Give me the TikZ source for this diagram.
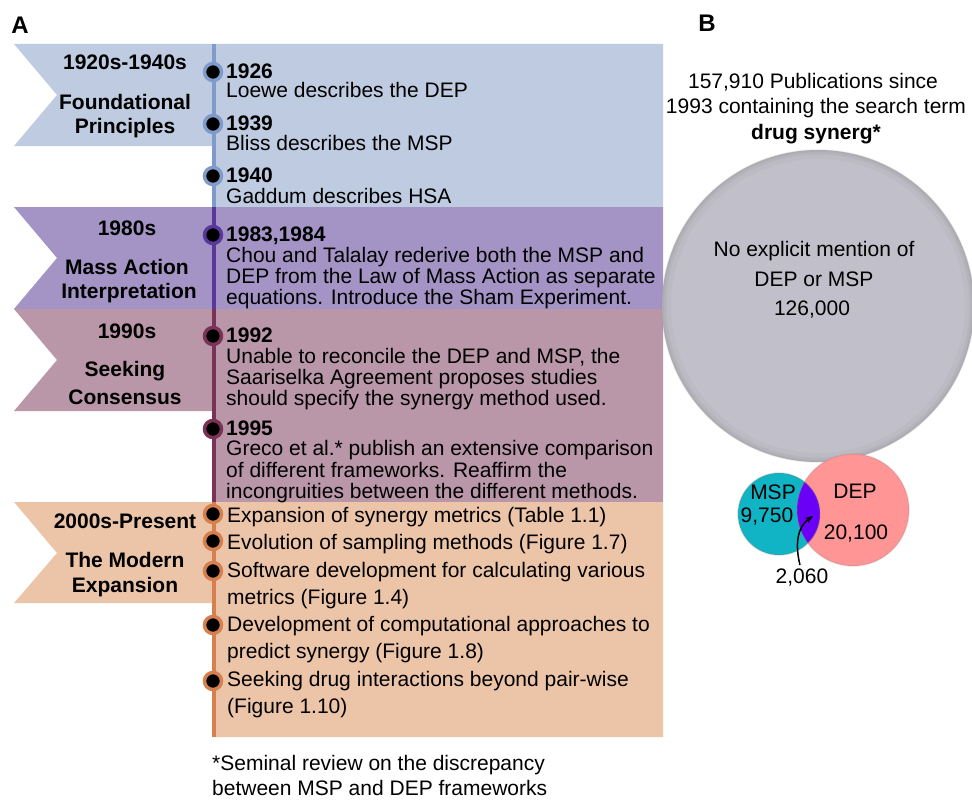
\documentclass[tikz,border=0pt]{standalone}
\usepackage{fontspec}
\usetikzlibrary{arrows.meta}
\setmainfont{Liberation Sans}
\newcommand\myfs{\fontsize{21}{24}\selectfont}
\definecolor{secA}{RGB}{190,203,224}
\definecolor{lineA}{RGB}{126,155,201}
\definecolor{secB}{RGB}{164,148,197}
\definecolor{lineB}{RGB}{88,56,152}
\definecolor{secC}{RGB}{185,151,168}
\definecolor{lineC}{RGB}{122,50,86}
\definecolor{secD}{RGB}{236,196,168}
\definecolor{lineD}{RGB}{214,128,80}
\definecolor{bigc}{RGB}{193,191,201}
\definecolor{mspc}{RGB}{16,180,196}
\definecolor{depc}{RGB}{255,149,149}
\definecolor{ovlc}{RGB}{106,0,245}
\begin{document}
\begin{tikzpicture}[x=1pt,y=-1pt,
  yr/.style={anchor=base west, font=\myfs\bfseries, inner sep=0pt},
  ds/.style={anchor=base west, font=\myfs, inner sep=0pt},
  lab/.style={font=\myfs\bfseries, inner sep=0pt, align=center},
  txt/.style={font=\myfs, inner sep=0pt},
  tdot/.style={circle, fill=black, draw=#1, line width=3.5pt, minimum size=17pt, inner sep=0pt},
  tline/.style={draw=#1, line width=4pt}]
\useasboundingbox (0,0) rectangle (972,800);
% panel letters
\node[font=\fontsize{24}{28}\selectfont\bfseries, inner sep=0pt] (lA) at (20,25) {A};
\node[font=\fontsize{24}{28}\selectfont\bfseries, inner sep=0pt] (lB) at (707,23) {B};
% section backgrounds
\fill[secA] (14,44) -- (663,44) -- (663,207) -- (213,207) -- (213,146) -- (14,146) -- (57,95) -- cycle;
\fill[secB] (14,207) -- (663,207) -- (663,309) -- (14,309) -- (57,258) -- cycle;
\fill[secC] (14,309) -- (663,309) -- (663,502) -- (213,502) -- (213,411) -- (14,411) -- (57,360) -- cycle;
\fill[secD] (14,502) -- (663,502) -- (663,737) -- (213,737) -- (213,603) -- (14,603) -- (57,553) -- cycle;
% timeline
\coordinate (t0) at (214,44);
\coordinate (t1) at (214,207);
\coordinate (t2) at (214,309);
\coordinate (t3) at (214,502);
\coordinate (t4) at (214,737);
\draw[tline=lineA] (t0) -- (t1);
\draw[tline=lineB] (t1) -- (t2);
\draw[tline=lineC] (t2) -- (t3);
\draw[tline=lineD] (t3) -- (t4);
% dots
\node[tdot=lineA] (d1) at (213,72) {};
\node[tdot=lineA] (d2) at (213,124) {};
\node[tdot=lineA] (d3) at (213,176) {};
\node[tdot=lineB] (d4) at (213,235) {};
\node[tdot=lineC] (d5) at (213,336) {};
\node[tdot=lineC] (d6) at (213,429) {};
\node[tdot=lineD] (d7) at (213,514) {};
\node[tdot=lineD] (d8) at (213,541) {};
\node[tdot=lineD] (d9) at (213,571) {};
\node[tdot=lineD] (d10) at (213,625) {};
\node[tdot=lineD] (d11) at (213,681) {};
% left labels
\node[lab] (l1a) at (125,62) {1920s-1940s};
\node[lab] (l1b) at (125,102) {Foundational};
\node[lab] (l1c) at (125,128) {Principles};
\node[lab] (l2a) at (127,228) {1980s};
\node[lab] (l2b) at (127,267) {Mass Action};
\node[lab] (l2c) at (129,293) {Interpretation};
\node[lab] (l3a) at (127,331) {1990s};
\node[lab] (l3b) at (125,371) {Seeking};
\node[lab] (l3c) at (125,397) {Consensus};
\node[lab] (l4a) at (125,521) {2000s-Present};
\node[lab] (l4b) at (125,560) {The Modern};
\node[lab] (l4c) at (125,587) {Expansion};
% section 1 text
\node[yr] (y1) at (226,78) {1926};
\node[ds] (e1) at (226,98) {Loewe describes the DEP};
\node[yr] (y2) at (226,130) {1939};
\node[ds] (e2) at (226,150) {Bliss describes the MSP};
\node[yr] (y3) at (226,182) {1940};
\node[ds] (e3) at (226,203) {Gaddum describes HSA};
% section 2 text
\node[yr] (y4) at (226,241) {1983,1984};
\node[ds] (e4a) at (226,262) {Chou and Talalay rederive both the MSP and};
\node[ds] (e4b) at (226,283) {DEP from the Law of Mass Action as separate};
\node[ds] (e4c) at (226,304) {equations. Introduce the Sham Experiment.};
% section 3 text
\node[yr] (y5) at (226,342) {1992};
\node[ds] (e5a) at (226,363) {Unable to reconcile the DEP and MSP, the};
\node[ds] (e5b) at (226,384) {Saariselka Agreement proposes studies};
\node[ds] (e5c) at (226,405) {should specify the synergy method used.};
\node[yr] (y6) at (226,435) {1995};
\node[ds] (e6a) at (226,455) {Greco et al.* publish an extensive comparison};
\node[ds] (e6b) at (226,477) {of different frameworks. Reaffirm the};
\node[ds] (e6c) at (226,498) {incongruities between the different methods.};
% section 4 text
\node[ds] (e7) at (227,522) {Expansion of synergy metrics (Table 1.1)};
\node[ds] (e8) at (227,549) {Evolution of sampling methods (Figure 1.7)};
\node[ds] (e9a) at (227,577) {Software development for calculating various};
\node[ds] (e9b) at (227,604) {metrics (Figure 1.4)};
\node[ds] (e10a) at (227,631) {Development of computational approaches to};
\node[ds] (e10b) at (227,658) {predict synergy (Figure 1.8)};
\node[ds] (e11a) at (227,686) {Seeking drug interactions beyond pair-wise};
\node[ds] (e11b) at (227,713) {(Figure 1.10)};
% footnote
\node[ds] (f1) at (212,770) {*Seminal review on the discrepancy};
\node[ds] (f2) at (212,795) {between MSP and DEP frameworks};
% panel B header
\node[txt] (h1) at (813,82) {157,910 Publications since};
\node[txt] (h2) at (816,108) {1993 containing the search term};
\node[lab] (h3) at (816,134) {drug synerg*};
% big circle
\coordinate (bc) at (818,306);
\fill[bigc] (bc) circle[radius=156pt];
\draw[black!45, opacity=0.08, line width=10pt] (bc) circle[radius=152pt];
\draw[black!45, opacity=0.14, line width=5pt] (bc) circle[radius=154pt];
\draw[black!45, opacity=0.18, line width=2pt] (bc) circle[radius=155pt];
\node[txt] (g1) at (814,251) {No explicit mention of};
\node[txt] (g2) at (814,279) {DEP or MSP};
\node[txt] (g3) at (812,310) {126,000};
% venn
\coordinate (mc) at (779,514);
\coordinate (dc) at (853,510);
\fill[mspc] (mc) circle[radius=41pt];
\fill[depc] (dc) circle[radius=56pt];
\begin{scope}
\clip (mc) circle[radius=41pt];
\fill[ovlc] (dc) circle[radius=56pt];
\end{scope}
\draw[black!50, opacity=0.25, line width=1.5pt] (mc) circle[radius=41pt];
\draw[black!50, opacity=0.2, line width=1.5pt] (dc) circle[radius=56pt];
\node[txt] (m1) at (773,492) {MSP};
\node[txt] (m2) at (767,517) {9,750};
\node[txt] (p1) at (855,491) {DEP};
\node[txt] (p2) at (856,534) {20,100};
\node[txt] (o1) at (802,578) {2,060};
\coordinate (arrstart) at (800,565);
\coordinate (arrtip) at (813,516);
\draw[-{Stealth[length=8pt,width=6pt]}, line width=1.5pt] (arrstart) .. controls (795,545) and (797,527) .. (arrtip);
\end{tikzpicture}
\end{document}
